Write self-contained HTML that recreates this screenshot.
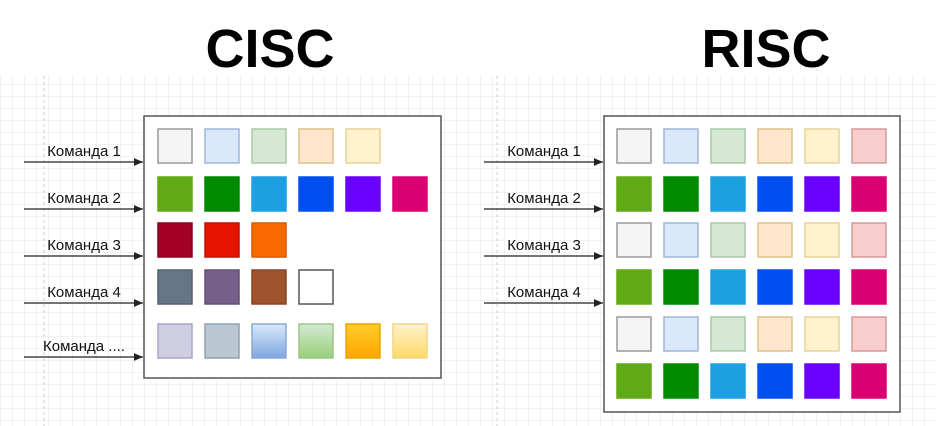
<!DOCTYPE html>
<html><head><meta charset="utf-8"><style>
html,body{margin:0;padding:0;background:#fff;}
svg{display:block;}
</style></head><body>
<svg id="s" width="936" height="426" viewBox="0 0 936 426" xmlns="http://www.w3.org/2000/svg">
<defs>
<pattern id="grid" width="12" height="12" patternUnits="userSpaceOnUse" x="0" y="0">
<path d="M12 0H0V12" fill="none" stroke="#e6e6e6" stroke-width="1"/>
</pattern>
<linearGradient id="gBlue" x1="0" y1="0" x2="0" y2="1"><stop offset="0" stop-color="#dae8fc"/><stop offset="1" stop-color="#7ea6e0"/></linearGradient>
<linearGradient id="gGreen" x1="0" y1="0" x2="0" y2="1"><stop offset="0" stop-color="#d5e8d4"/><stop offset="1" stop-color="#97d077"/></linearGradient>
<linearGradient id="gOrange" x1="0" y1="0" x2="0" y2="1"><stop offset="0" stop-color="#ffcd28"/><stop offset="1" stop-color="#ffa500"/></linearGradient>
<linearGradient id="gYellow" x1="0" y1="0" x2="0" y2="1"><stop offset="0" stop-color="#fff2cc"/><stop offset="1" stop-color="#ffd966"/></linearGradient>
<marker id="arr" markerWidth="8" markerHeight="8" refX="7" refY="4" orient="auto"><path d="M0,1 L7,4 L0,7 Z" fill="#222"/></marker>
</defs>
<rect x="0" y="76" width="936" height="350" fill="url(#grid)"/>
<line x1="44" y1="76" x2="44" y2="426" stroke="#ccc" stroke-dasharray="3,3"/>
<line x1="497" y1="76" x2="497" y2="426" stroke="#ccc" stroke-dasharray="3,3"/>
<text x="270" y="67" text-anchor="middle" font-family="Liberation Sans, sans-serif" font-weight="bold" font-size="54" fill="#000">CISC</text>
<text x="766" y="67" text-anchor="middle" font-family="Liberation Sans, sans-serif" font-weight="bold" font-size="54" fill="#000">RISC</text>
<rect x="144" y="116" width="297" height="262" fill="#fff" stroke="#555" stroke-width="1.5"/>
<rect x="604" y="116" width="296" height="296" fill="#fff" stroke="#555" stroke-width="1.5"/>
<g id="cells"></g>
</svg>
<script>
const ciscLabels=["Команда 1","Команда 2","Команда 3","Команда 4","Команда ...."];
const riscLabels=["Команда 1","Команда 2","Команда 3","Команда 4"];
const lightFill=["#f5f5f5","#dae8fc","#d5e8d4","#ffe6cc","#fff2cc","#f8cecc"];
const lightStroke=["#999","#9fb6d8","#a9c9a4","#e0c08a","#e6d39a","#d49a98"];
const darkFill=["#60a917","#008a00","#1ba1e2","#0050ef","#6a00ff","#d80073"];
const ciscRows=[
 {f:lightFill.slice(0,5),s:lightStroke.slice(0,5)},
 {f:darkFill,s:darkFill},
 {f:["#a20025","#e51400","#fa6800"],s:["#8a0020","#c41100","#d95a00"]},
 {f:["#647687","#76608a","#a0522d","#ffffff"],s:["#55616f","#625073","#8a4526","#555"]},
 {f:["#d0cee2","#bac8d3","url(#gBlue)","url(#gGreen)","url(#gOrange)","url(#gYellow)"],s:["#a9a6c6","#8fa1ae","#8ba8d6","#9cc58c","#e6a800","#f0d58a"]}
];
const ciscRowY=[129,177,223,270,324];
const riscRowY=[129,177,223,270,317,364];
const ciscArrowY=[162,209,256,303,357];
const riscArrowY=[162,209,256,303];
const NS="http://www.w3.org/2000/svg";
const g=document.getElementById('cells');
function sq(x,y,f,s,name){
 const r=document.createElementNS(NS,'rect');
 r.setAttribute('x',x);r.setAttribute('y',y);r.setAttribute('width',34);r.setAttribute('height',34);
 r.setAttribute('fill',f);r.setAttribute('stroke',s);r.setAttribute('stroke-width',1.5);
 
 
 g.appendChild(r);
}
ciscRows.forEach((row,i)=>row.f.forEach((f,j)=>sq(158+47*j,ciscRowY[i],f,row.s[j],'cisc-cell-'+(i+1)+'-'+(j+1))));
riscRowY.forEach((y,i)=>{const light=i%2===0;for(let j=0;j<6;j++)sq(617+47*j,y,light?lightFill[j]:darkFill[j],light?lightStroke[j]:darkFill[j],'risc-cell-'+(i+1)+'-'+(j+1));});
function arrow(x1,x2,y,label,cx,name){
 const l=document.createElementNS(NS,'line');
 l.setAttribute('x1',x1);l.setAttribute('x2',x2-1);l.setAttribute('y1',y);l.setAttribute('y2',y);
 l.setAttribute('stroke','#222');l.setAttribute('stroke-width',1.3);l.setAttribute('marker-end','url(#arr)');
 
 
 g.appendChild(l);
 const t=document.createElementNS(NS,'text');
 t.setAttribute('x',cx);t.setAttribute('y',y-6);t.setAttribute('text-anchor','middle');
 t.setAttribute('font-family','Liberation Sans, sans-serif');t.setAttribute('font-size','15');t.setAttribute('fill','#111');
 t.textContent=label;
 
 
 g.appendChild(t);
}
ciscLabels.forEach((lb,i)=>arrow(24,144,ciscArrowY[i],lb,84,'cisc-command-'+(i+1)));
riscLabels.forEach((lb,i)=>arrow(484,604,riscArrowY[i],lb,544,'risc-command-'+(i+1)));
</script>
</body></html>
